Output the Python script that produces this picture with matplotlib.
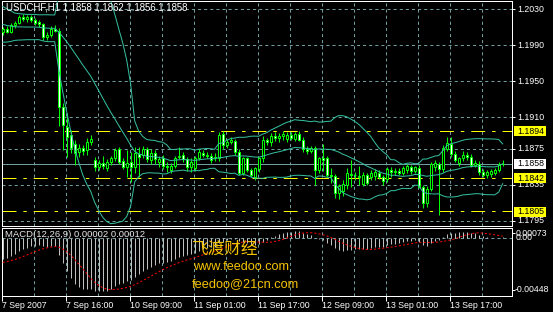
import numpy as np
import pandas as pd
import matplotlib
matplotlib.use("Agg")
import matplotlib.pyplot as plt
from matplotlib.patches import Rectangle
from matplotlib.transforms import blended_transform_factory

plt.rcParams['font.family'] = ['Liberation Sans', 'Noto Sans CJK SC', 'DejaVu Sans']
plt.rcParams['lines.scale_dashes'] = False

# ---- data (USDCHF H1, 7 Sep 2007 00:00 .. 14 Sep 2007 06:00) ----
symbol = 'USDCHF,H1'

opens = [
    1.2004, 1.2008, 1.2005, 1.2012, 1.2015, 1.2021, 1.2019, 1.2021, 1.2018, 1.2015,
    1.2013, 1.1999, 1.2001, 1.2008, 1.2006, 1.1921, 1.1899, 1.1890, 1.1880, 1.1871,
    1.1876, 1.1873, 1.1882, 1.1862, 1.1854, 1.1859, 1.1853, 1.1860, 1.1864, 1.1874,
    1.1861, 1.1855, 1.1860, 1.1855, 1.1869, 1.1868, 1.1874, 1.1862, 1.1870, 1.1860,
    1.1864, 1.1856, 1.1851, 1.1856, 1.1865, 1.1868, 1.1863, 1.1854, 1.1853, 1.1864,
    1.1870, 1.1868, 1.1867, 1.1864, 1.1864, 1.1891, 1.1879, 1.1882, 1.1883, 1.1871,
    1.1848, 1.1864, 1.1851, 1.1843, 1.1852, 1.1864, 1.1884, 1.1882, 1.1889, 1.1887,
    1.1889, 1.1886, 1.1890, 1.1886, 1.1891, 1.1885, 1.1874, 1.1872, 1.1875, 1.1851,
    1.1864, 1.1864, 1.1846, 1.1844, 1.1826, 1.1828, 1.1835, 1.1847, 1.1845, 1.1844,
    1.1836, 1.1845, 1.1843, 1.1844, 1.1848, 1.1843, 1.1841, 1.1851, 1.1849, 1.1850,
    1.1848, 1.1851, 1.1855, 1.1850, 1.1853, 1.1832, 1.1814, 1.1830, 1.1855, 1.1858,
    1.1852, 1.1874, 1.1880, 1.1869, 1.1859, 1.1864, 1.1868, 1.1866, 1.1857, 1.1858,
    1.1849, 1.1845, 1.1847, 1.1848, 1.1851, 1.1858]
highs = [
    1.2010, 1.2011, 1.2015, 1.2017, 1.2023, 1.2024, 1.2023, 1.2023, 1.2020, 1.2018,
    1.2015, 1.2004, 1.2011, 1.2012, 1.2009, 1.1926, 1.1914, 1.1896, 1.1884, 1.1880,
    1.1879, 1.1887, 1.1890, 1.1865, 1.1862, 1.1867, 1.1863, 1.1867, 1.1876, 1.1877,
    1.1864, 1.1873, 1.1871, 1.1877, 1.1877, 1.1878, 1.1877, 1.1874, 1.1873, 1.1867,
    1.1868, 1.1860, 1.1859, 1.1867, 1.1877, 1.1871, 1.1866, 1.1864, 1.1867, 1.1874,
    1.1873, 1.1871, 1.1870, 1.1870, 1.1893, 1.1895, 1.1886, 1.1888, 1.1886, 1.1874,
    1.1866, 1.1866, 1.1853, 1.1855, 1.1866, 1.1889, 1.1887, 1.1892, 1.1893, 1.1892,
    1.1895, 1.1893, 1.1893, 1.1893, 1.1894, 1.1888, 1.1878, 1.1878, 1.1878, 1.1866,
    1.1880, 1.1867, 1.1853, 1.1847, 1.1836, 1.1840, 1.1853, 1.1862, 1.1849, 1.1856,
    1.1849, 1.1848, 1.1851, 1.1852, 1.1851, 1.1846, 1.1855, 1.1855, 1.1853, 1.1853,
    1.1856, 1.1858, 1.1857, 1.1856, 1.1857, 1.1835, 1.1833, 1.1860, 1.1862, 1.1860,
    1.1879, 1.1888, 1.1888, 1.1872, 1.1866, 1.1872, 1.1871, 1.1869, 1.1862, 1.1861,
    1.1852, 1.1851, 1.1852, 1.1853, 1.1860, 1.1862]
lows = [
    1.2001, 1.2003, 1.2003, 1.2009, 1.2013, 1.2017, 1.2016, 1.2016, 1.2012, 1.2010,
    1.1996, 1.1996, 1.1999, 1.2004, 1.1900, 1.1873, 1.1866, 1.1870, 1.1857, 1.1865,
    1.1868, 1.1868, 1.1879, 1.1850, 1.1851, 1.1852, 1.1850, 1.1857, 1.1861, 1.1858,
    1.1852, 1.1843, 1.1838, 1.1848, 1.1843, 1.1864, 1.1860, 1.1858, 1.1858, 1.1855,
    1.1852, 1.1849, 1.1848, 1.1853, 1.1863, 1.1860, 1.1850, 1.1849, 1.1850, 1.1862,
    1.1865, 1.1864, 1.1859, 1.1861, 1.1861, 1.1875, 1.1876, 1.1880, 1.1868, 1.1845,
    1.1845, 1.1849, 1.1843, 1.1840, 1.1849, 1.1860, 1.1879, 1.1878, 1.1883, 1.1882,
    1.1884, 1.1882, 1.1884, 1.1883, 1.1883, 1.1871, 1.1869, 1.1870, 1.1835, 1.1848,
    1.1850, 1.1843, 1.1837, 1.1820, 1.1819, 1.1822, 1.1830, 1.1832, 1.1840, 1.1835,
    1.1833, 1.1834, 1.1840, 1.1840, 1.1841, 1.1834, 1.1838, 1.1843, 1.1845, 1.1846,
    1.1845, 1.1848, 1.1847, 1.1848, 1.1831, 1.1809, 1.1810, 1.1828, 1.1850, 1.1801,
    1.1849, 1.1872, 1.1866, 1.1860, 1.1856, 1.1861, 1.1862, 1.1855, 1.1854, 1.1846,
    1.1843, 1.1842, 1.1843, 1.1845, 1.1849, 1.1856]
closes = [
    1.2008, 1.2005, 1.2012, 1.2015, 1.2021, 1.2019, 1.2021, 1.2018, 1.2015, 1.2013,
    1.1999, 1.2001, 1.2008, 1.2006, 1.1921, 1.1901, 1.1888, 1.1876, 1.1870, 1.1876,
    1.1872, 1.1882, 1.1886, 1.1854, 1.1859, 1.1856, 1.1860, 1.1864, 1.1873, 1.1860,
    1.1855, 1.1859, 1.1854, 1.1870, 1.1866, 1.1874, 1.1863, 1.1870, 1.1863, 1.1863,
    1.1856, 1.1855, 1.1856, 1.1864, 1.1867, 1.1863, 1.1854, 1.1860, 1.1864, 1.1871,
    1.1868, 1.1867, 1.1862, 1.1866, 1.1890, 1.1879, 1.1882, 1.1884, 1.1871, 1.1848,
    1.1864, 1.1851, 1.1846, 1.1853, 1.1864, 1.1884, 1.1882, 1.1889, 1.1887, 1.1889,
    1.1891, 1.1890, 1.1887, 1.1891, 1.1885, 1.1874, 1.1872, 1.1875, 1.1851, 1.1864,
    1.1862, 1.1846, 1.1844, 1.1826, 1.1833, 1.1836, 1.1848, 1.1845, 1.1846, 1.1843,
    1.1846, 1.1837, 1.1848, 1.1849, 1.1843, 1.1839, 1.1852, 1.1849, 1.1850, 1.1848,
    1.1853, 1.1855, 1.1850, 1.1854, 1.1832, 1.1814, 1.1830, 1.1858, 1.1859, 1.1852,
    1.1876, 1.1881, 1.1869, 1.1862, 1.1864, 1.1868, 1.1865, 1.1857, 1.1859, 1.1849,
    1.1845, 1.1849, 1.1850, 1.1851, 1.1858, 1.1858]

# closes before the first visible bar (needed by the 20-bar bands)
prior_closes = [1.2030, 1.2027, 1.2029, 1.2024, 1.2021, 1.2023, 1.2018, 1.2015, 1.2017,
                1.2012, 1.2009, 1.2011, 1.2006, 1.2003, 1.2005, 1.2000, 1.1998, 1.2001,
                1.2003]
# EMA state before prior_closes (earlier history not on screen)
ema_fast_seed = 1.2060
ema_slow_seed = 1.2080

price_ticks = [1.2030, 1.1990, 1.1950, 1.1910, 1.1875, 1.1835, 1.1795]
level_lines = [1.1894, 1.1842, 1.1805]
macd_max, macd_min = 0.00073, -0.00448
macd_text = 'MACD(12,26,9) 0.00002 0.00012'
watermark = ['飞渡财经', 'www.feedoo.com', 'feedoo@21cn.com']

n = len(closes)
assert len(opens) == len(highs) == len(lows) == n

# bar times: Friday session, weekend gap, then Monday onward
times = list(pd.date_range('2007-09-07 00:00', '2007-09-07 22:00', freq='h'))
times += list(pd.date_range('2007-09-10 00:00', periods=n - len(times), freq='h'))

# ---- indicators ----
full = pd.Series(prior_closes + closes)
mid = full.rolling(20).mean()
sd = full.rolling(20).std(ddof=0)
bb_mid = mid.values[-n:]
bb_up = (mid + 2 * sd).values[-n:]
bb_dn = (mid - 2 * sd).values[-n:]

ef, es = ema_fast_seed, ema_slow_seed
macd_all = []
for c in full:
    ef += 2 / 13 * (c - ef)
    es += 2 / 27 * (c - es)
    macd_all.append(ef - es)
macd_all = pd.Series(macd_all)
signal = macd_all.rolling(9).mean().values[-n:]
macd = macd_all.values[-n:]

# ---- style ----
W, H = 553, 312
BG = 'black'
LIME = '#00ff00'
GRID = '#6f9ea0'
BAND = '#35c0a0'
YEL = '#ffff00'
LW = 0.72  # one pixel

fig = plt.figure(figsize=(W / 100, H / 100), dpi=100, facecolor=BG)
ax = fig.add_axes([2 / W, (H - 226) / H, 510 / W, 225 / H], facecolor=BG)
ax2 = fig.add_axes([2 / W, (H - 296) / H, 510 / W, 68 / H], facecolor=BG)

x0 = -0.175
x1 = x0 + 510 / 4.0
px_per_unit = 9000.0
ax.set_xlim(x0, x1)
ax.set_ylim(1.2030 - 217 / px_per_unit, 1.2030 + 8 / px_per_unit)
ax2.set_xlim(x0, x1)
ax2.set_ylim(macd_min, macd_max)

for a in (ax, ax2):
    for s in a.spines.values():
        s.set_color('white')
        s.set_linewidth(LW)
    for k in range(1, 16):
        a.axvline(x0 + 8 * k, color=GRID, lw=LW, ls=(0, (2.2, 2.2)), zorder=1)

for p in price_ticks:
    ax.axhline(p, color=GRID, lw=LW, ls=(0, (2.2, 2.2)), zorder=1)
ax2.axhline(0, color=GRID, lw=LW, ls=(0, (2.2, 2.2)), zorder=1)

for p in level_lines:
    ax.axhline(p, color=YEL, lw=LW, ls=(0, (10, 5, 2.5, 5)), zorder=1.5)
ax.axhline(closes[-1], color=GRID, lw=LW, zorder=1.6)

# candles
idx = np.arange(n)
for i in idx:
    o, h, l, c = opens[i], highs[i], lows[i], closes[i]
    ax.vlines(i, l, h, color=LIME, lw=LW, zorder=3)
    if abs(c - o) < 1e-9:
        ax.hlines(o, i - 0.375, i + 0.375, color=LIME, lw=LW, zorder=3)
    else:
        ax.add_patch(Rectangle((i - 0.25, min(o, c)), 0.5, abs(c - o),
                               facecolor='white' if c < o else 'black',
                               edgecolor=LIME, lw=LW, zorder=3.1))

for band in (bb_up, bb_mid, bb_dn):
    ax.plot(idx, band, color=BAND, lw=LW, zorder=4)

# MACD pane
ax2.vlines(idx, 0, macd, color='#c0c0c0', lw=LW, zorder=2)
ax2.plot(idx, signal, color='#ff0000', lw=LW, ls=(0, (1.5, 1.5)), zorder=3)

# axis ticks / labels
ax.set_xticks([])
ax.yaxis.tick_right()
ax.set_yticks(price_ticks)
ax.tick_params(axis='y', length=2.2, width=LW, color='white', labelright=False)

tr_main = blended_transform_factory(fig.transFigure, ax.transData)
for p in price_ticks:
    fig.text(517 / W, p, f'{p:.4f}', transform=tr_main, color='white',
             fontsize=6.3, va='center', ha='left', zorder=3)

for p, fc in [(level_lines[0], YEL), (level_lines[1], YEL), (level_lines[2], YEL),
              (closes[-1], 'white')]:
    fig.patches.append(Rectangle((514 / W, p - 5 / px_per_unit), 32 / W, 10 / px_per_unit,
                                 transform=tr_main, facecolor=fc, edgecolor='none', zorder=4))
    fig.text(517 / W, p, f'{p:.4f}', transform=tr_main, color='black',
             fontsize=6.3, va='center', ha='left', zorder=5)

ax2.yaxis.tick_right()
span = macd_max - macd_min
ax2.set_yticks([macd_max - span * 5 / 68, macd_min + span * 6 / 68])
ax2.tick_params(axis='y', length=2.2, width=LW, color='white', labelright=False)
tr_macd = blended_transform_factory(fig.transFigure, ax2.transData)
fig.text(516 / W, macd_max - span * 5 / 68, f'{macd_max:.5f}', transform=tr_macd,
         color='white', fontsize=6.3, va='center', ha='left')
fig.text(516 / W, 0, '0.00', transform=tr_macd, color='white', fontsize=6.3,
         va='center', ha='left')
fig.text(515 / W, macd_min + span * 6 / 68, f'{macd_min:.5f}', transform=tr_macd,
         color='white', fontsize=6.3, va='center', ha='left')

tick_pos = [x0 + 16 * k for k in range(8)]
tick_lab = []
for k in range(8):
    t = times[16 * k]
    tick_lab.append(f'{t.day} {t:%b %Y}' if k == 0 else f'{t.day} {t:%b %H:%M}')
ax2.set_xticks(tick_pos)
ax2.set_xticklabels(tick_lab, ha='left')
ax2.tick_params(axis='x', length=3.6, width=LW, color='white', labelcolor='white',
                labelsize=6.3, pad=0)
ax2.set_yticklabels([])

# texts
o, h, l, c = opens[-1], highs[-1], lows[-1], closes[-1]
fig.text(6 / W, 1 - 7.5 / H, f'{symbol} {o:.4f} {h:.4f} {l:.4f} {c:.4f}',
         color='white', fontsize=6.9, va='center', ha='left')
fig.text(5 / W, 1 - 234.5 / H, macd_text, color='#e8e8e8', fontsize=6.8,
         va='center', ha='left')

WM = '#f5c400'
fig.text(192 / W, 1 - 249.5 / H, watermark[0], color=WM, fontsize=12,
         family=['Noto Sans CJK SC'], va='center', ha='left')
fig.text(193 / W, 1 - 267.5 / H, watermark[1], color=WM, fontsize=9.1,
         va='center', ha='left')
fig.text(192 / W, 1 - 284 / H, watermark[2], color=WM, fontsize=9.2,
         va='center', ha='left')

fig.savefig('out.png', dpi=100, facecolor=BG)
